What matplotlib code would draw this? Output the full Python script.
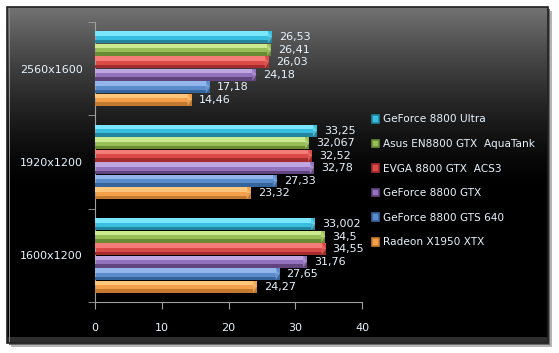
import numpy as np
import matplotlib.pyplot as plt
from matplotlib.patches import Patch, Rectangle, Polygon

# data
resolutions = ['1600x1200', '1920x1200', '2560x1600']
cards = ['GeForce 8800 Ultra', 'Asus EN8800 GTX  AquaTank', 'EVGA 8800 GTX  ACS3',
         'GeForce 8800 GTX', 'GeForce 8800 GTS 640', 'Radeon X1950 XTX']
ultra = [33.002, 33.25, 26.53]
aquatank = [34.5, 32.067, 26.41]
evga = [34.55, 32.52, 26.03]
gtx = [31.76, 32.78, 24.18]
gts = [27.65, 27.33, 17.18]
radeon = [24.27, 23.32, 14.46]
value_labels = [['33,002', '33,25', '26,53'],
                ['34,5', '32,067', '26,41'],
                ['34,55', '32,52', '26,03'],
                ['31,76', '32,78', '24,18'],
                ['27,65', '27,33', '17,18'],
                ['24,27', '23,32', '14,46']]
series = [ultra, aquatank, evga, gtx, gts, radeon]

light = ['#7ae6fc', '#cbea90', '#f67c7a', '#c0a6e0', '#92b6ec', '#ffc67c']
main = ['#38bede', '#98be58', '#dc4a48', '#9272bc', '#5a8ccc', '#f4a04a']
dark = ['#22869e', '#6a8a34', '#a42c2c', '#62447e', '#36649c', '#c47a2e']
txt = '#e8f4ff'

W, H = 559, 353
fig = plt.figure(figsize=(W / 100, H / 100), dpi=100)
fig.patch.set_facecolor('white')

# frame with gradient background
bg = fig.add_axes([0, 0, 1, 1], zorder=-5)
bg.add_patch(Rectangle((11, 11), 541, 336, color='#b4b4b4', lw=0, zorder=0))
bg.add_patch(Rectangle((9, 9), 541, 336, color='#6a6a6a', lw=0, zorder=0.5))
grad = np.linspace(0, 1, 400)
grad = np.clip(1 - grad / 0.55, 0, 1) ** 1.5 * 0.45
img = np.repeat(grad[:, None, None], 3, axis=2)
bg.imshow(img, extent=(7, 548, 343, 7), aspect='auto', interpolation='bilinear', zorder=1)
bg.add_patch(Rectangle((7, 337), 541, 6, color='#2e2e2e', lw=0, zorder=1.5))
bg.add_patch(Rectangle((9, 7), 1.2, 336, color='#8a8a8a', lw=0, zorder=2))
bg.add_patch(Rectangle((7, 7), 541, 336, fill=False, ec='#202020', lw=1.2, zorder=3))
bg.set_xlim(0, W)
bg.set_ylim(H, 0)
bg.axis('off')

ax = fig.add_axes([95 / W, 1 - 302 / H, (362 - 95) / W, (302 - 22) / H])
ax.set_facecolor('none')

h = 0.134
base = np.arange(len(resolutions))
px = 40 / (362 - 95)  # data units per pixel
for i, vals in enumerate(series):
    yy = base + (2.5 - i) * h
    ax.barh(yy, vals, height=h * 0.96, color=main[i], lw=0, zorder=2)
    ax.barh(yy + h * 0.3, vals, height=h * 0.36, color=light[i], lw=0, zorder=3)
    ax.barh(yy - h * 0.34, vals, height=h * 0.28, color=dark[i], lw=0, zorder=3)
    for y, v, lab in zip(yy, vals, value_labels[i]):
        t, b = y + h * 0.48, y - h * 0.48
        ax.add_patch(Polygon([(v - 4 * px, t), (v, t), (v, y), (v - 4 * px, y)],
                             closed=True, color=main[i], lw=0, zorder=4))
        ax.add_patch(Polygon([(v - 4 * px, y), (v, y), (v, b), (v - 4 * px, b)],
                             closed=True, color=dark[i], lw=0, zorder=4))
        ax.add_patch(Polygon([(v - 4 * px, t), (v, y), (v - 4 * px, b)],
                             closed=True, color=light[i], lw=0, zorder=5, alpha=0.55))
        ax.text(v + 7 * px, y, lab, color=txt, fontsize=8, va='center', ha='left')

ax.set_xlim(0, 40)
ax.set_ylim(-0.5, 2.5)
ax.set_xticks([0, 10, 20, 30, 40])
ax.set_yticks(base)
ax.set_yticklabels(resolutions)
ax.set_yticks(np.arange(-0.5, 3, 1), minor=True)
ax.tick_params(axis='y', which='major', length=0, pad=9, colors=txt, labelsize=8)
ax.tick_params(axis='y', which='minor', length=5, color='#a0a0a0')
ax.tick_params(axis='x', length=5, pad=10, colors=txt, labelsize=8, color='#a0a0a0')
for s in ['top', 'right']:
    ax.spines[s].set_visible(False)
for s in ['left', 'bottom']:
    ax.spines[s].set_color('#a0a0a0')

handles = [Patch(facecolor=main[i], edgecolor=dark[i], lw=1.2) for i in range(6)]
leg = fig.legend(handles, cards, loc='upper left', bbox_to_anchor=(362 / W, 1 - 105 / H),
                 frameon=False, fontsize=7.6, labelspacing=1.38, handlelength=0.75,
                 handleheight=0.75, handletextpad=0.35, labelcolor=txt)

fig.savefig('out.png', dpi=100)
